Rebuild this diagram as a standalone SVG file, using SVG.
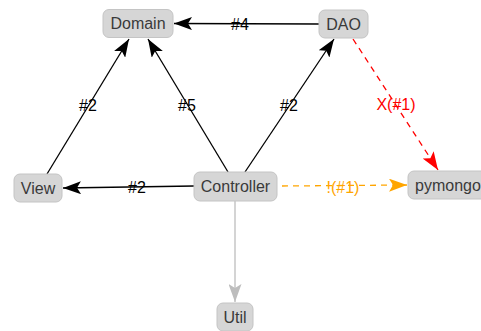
<svg xmlns="http://www.w3.org/2000/svg" width="481" height="331" viewBox="0 0 481 331">
<style>
.node rect{fill:#d6d6d6;stroke:#c4c4c4;stroke-width:1}
.node text{font-family:"Liberation Sans",Arial,sans-serif;font-size:16px;fill:#3a3a3a;text-anchor:middle;dominant-baseline:central}
.e{fill:none;stroke-width:1.3}
.lbl{font-family:"Liberation Sans",Arial,sans-serif;font-size:16px;text-anchor:middle;dominant-baseline:central}
</style>
<defs>
<marker id="ab" viewBox="0 0 18 13" refX="18" refY="6.5" markerWidth="18" markerHeight="13" markerUnits="userSpaceOnUse" orient="auto"><path d="M0,0 L18,6.5 L0,13 L4,6.5 Z" fill="#000"/></marker>
<marker id="ar" viewBox="0 0 18 13" refX="18" refY="6.5" markerWidth="18" markerHeight="13" markerUnits="userSpaceOnUse" orient="auto"><path d="M0,0 L18,6.5 L0,13 L4,6.5 Z" fill="#ff0000"/></marker>
<marker id="ao" viewBox="0 0 18 13" refX="18" refY="6.5" markerWidth="18" markerHeight="13" markerUnits="userSpaceOnUse" orient="auto"><path d="M0,0 L18,6.5 L0,13 L4,6.5 Z" fill="#ffa500"/></marker>
<marker id="ag" viewBox="0 0 18 13" refX="18" refY="6.5" markerWidth="18" markerHeight="13" markerUnits="userSpaceOnUse" orient="auto"><path d="M0,0 L18,6.5 L0,13 L4,6.5 Z" fill="#bdbdbd"/></marker>
</defs>
<g id="edges">
<line class="e" x1="319" y1="24" x2="174" y2="23.5" stroke="#000" marker-end="url(#ab)"/>
<line class="e" x1="47" y1="174" x2="129" y2="39" stroke="#000" marker-end="url(#ab)"/>
<line class="e" x1="228" y1="172" x2="148" y2="39" stroke="#000" marker-end="url(#ab)"/>
<line class="e" x1="245" y1="172" x2="334" y2="39" stroke="#000" marker-end="url(#ab)"/>
<line class="e" x1="194" y1="186" x2="63" y2="188" stroke="#000" marker-end="url(#ab)"/>
<line class="e" x1="282" y1="186" x2="407" y2="185" stroke="#ffa500" stroke-dasharray="6,5" marker-end="url(#ao)"/>
<line class="e" x1="353" y1="39" x2="438" y2="170" stroke="#ff0000" stroke-dasharray="6,5" marker-end="url(#ar)"/>
<line class="e" x1="235" y1="201" x2="235" y2="302" stroke="#bdbdbd" marker-end="url(#ag)"/>
<text class="lbl" x="240" y="24" fill="#000">#4</text>
<text class="lbl" x="88" y="105" fill="#000">#2</text>
<text class="lbl" x="187" y="105" fill="#000">#5</text>
<text class="lbl" x="289" y="105" fill="#000">#2</text>
<text class="lbl" x="137" y="187" fill="#000">#2</text>
<text class="lbl" x="343" y="187" fill="#ffa500">!(#1)</text>
<text class="lbl" x="396" y="104" fill="#ff0000">X(#1)</text>
</g>
<g id="Domain" class="node"><rect x="103" y="9.5" width="70" height="28" rx="6"/><text x="138" y="23.5">Domain</text></g>
<g id="DAO" class="node"><rect x="319" y="10" width="49" height="28" rx="6"/><text x="343.5" y="24">DAO</text></g>
<g id="View" class="node"><rect x="14" y="174" width="48" height="28" rx="6"/><text x="38" y="188">View</text></g>
<g id="Controller" class="node"><rect x="194" y="172" width="83" height="29" rx="6"/><text x="235.5" y="186.5">Controller</text></g>
<g id="pymongo" class="node"><rect x="408" y="171" width="80" height="28" rx="6"/><text x="448" y="185">pymongo</text></g>
<g id="Util" class="node"><rect x="217" y="303" width="36" height="28" rx="6"/><text x="235" y="317">Util</text></g>
</svg>
